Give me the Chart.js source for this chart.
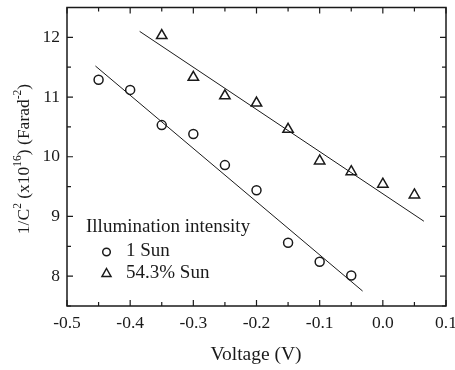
<!DOCTYPE html>
<html>
<head>
<meta charset="utf-8">
<script src="https://cdn.jsdelivr.net/npm/chart.js@4/dist/chart.umd.min.js"></script>
<style>
    html, body { margin: 0; padding: 0; background: #fff; }
    #wrap { width: 455px; height: 370px; position: relative; }
</style>
</head>
<body>
<div id="wrap"><canvas id="mainChart"></canvas></div>
<script>
// tick labels
const xTicks = [-0.5, -0.4, -0.3, -0.2, -0.1, 0.0, 0.1];
const yTicks = [8, 9, 10, 11, 12];

// 1 Sun
const voltageOne = [-0.45, -0.40, -0.35, -0.30, -0.25, -0.20, -0.15, -0.10, -0.05];
const invCapOne = [11.29, 11.12, 10.53, 10.38, 9.86, 9.44, 8.56, 8.24, 8.01];

// 54.3% Sun
const voltagePart = [-0.35, -0.30, -0.25, -0.20, -0.15, -0.10, -0.05, 0.00, 0.05];
const invCapPart = [12.03, 11.33, 11.02, 10.90, 10.46, 9.93, 9.75, 9.54, 9.36];

// linear fits (end points)
const fitOneX = [-0.455, -0.032];
const fitOneY = [11.52, 7.75];
const fitPartX = [-0.385, 0.065];
const fitPartY = [12.10, 8.92];

const legendTitle = 'Illumination intensity';
const seriesNames = ['1 Sun', '54.3% Sun'];

const FONT = '"Liberation Serif", "Times New Roman", serif';
const INK = '#1a1a1a';

const toPts = (xs, ys) => xs.map((v, i) => ({ x: v, y: ys[i] }));

// inward ticks, frame, axis titles and legend
const decor = {
    id: 'decor',
    afterDraw(chart) {
        const { ctx, chartArea: a, scales: { x, y } } = chart;
        ctx.save();
        ctx.strokeStyle = INK;
        ctx.lineWidth = 1.2;
        ctx.beginPath();
        for (let i = 0; i <= 12; i++) {
            const px = x.getPixelForValue(-0.5 + i * 0.05);
            const len = i % 2 === 0 ? 6 : 4;
            ctx.moveTo(px, a.bottom); ctx.lineTo(px, a.bottom - len);
            ctx.moveTo(px, a.top); ctx.lineTo(px, a.top + len);
        }
        for (let i = 0; i <= 10; i++) {
            const py = y.getPixelForValue(7.5 + i * 0.5);
            const len = i % 2 === 1 ? 6 : 4;
            ctx.moveTo(a.left, py); ctx.lineTo(a.left + len, py);
            ctx.moveTo(a.right, py); ctx.lineTo(a.right - len, py);
        }
        ctx.stroke();
        ctx.lineWidth = 1.5;
        ctx.strokeRect(a.left, a.top, a.right - a.left, a.bottom - a.top);

        // x title
        ctx.fillStyle = INK;
        ctx.font = '19.5px ' + FONT;
        ctx.textAlign = 'center';
        ctx.textBaseline = 'middle';
        ctx.fillText('Voltage (V)', 256, 355);

        // y title with superscripts
        const parts = [['1/C', 0], ['2', 1], [' (x10', 0], ['16', 1], [') (Farad', 0], ['-2', 1], [')', 0]];
        const fontOf = s => (s ? '11.5px ' : '17.5px ') + FONT;
        let total = 0;
        parts.forEach(p => { ctx.font = fontOf(p[1]); total += ctx.measureText(p[0]).width; });
        ctx.translate(22, 159);
        ctx.rotate(-Math.PI / 2);
        ctx.textAlign = 'left';
        ctx.textBaseline = 'alphabetic';
        let cx = -total / 2;
        parts.forEach(p => {
            ctx.font = fontOf(p[1]);
            ctx.fillText(p[0], cx, p[1] ? -1 : 6.5);
            cx += ctx.measureText(p[0]).width;
        });
        ctx.setTransform(1, 0, 0, 1, 0, 0);

        // legend
        ctx.font = '19px ' + FONT;
        ctx.textBaseline = 'middle';
        ctx.textAlign = 'left';
        ctx.fillText(legendTitle, 86, 227);
        ctx.fillText(seriesNames[0], 126, 251);
        ctx.fillText(seriesNames[1], 126, 273);
        ctx.lineWidth = 1.5;
        ctx.beginPath();
        ctx.arc(106.5, 252, 3.8, 0, Math.PI * 2);
        ctx.stroke();
        ctx.beginPath();
        ctx.moveTo(106.5, 268.5); ctx.lineTo(111, 276.5); ctx.lineTo(102, 276.5); ctx.closePath();
        ctx.stroke();
        ctx.restore();
    }
};

const noPad = s => { s.paddingTop = 0; s.paddingBottom = 0; s.paddingLeft = 0; s.paddingRight = 0; };

const ctx = document.getElementById('mainChart').getContext('2d');
new Chart(ctx, {
    type: 'scatter',
    data: {
        datasets: [
            {
                label: seriesNames[0],
                data: toPts(voltageOne, invCapOne),
                pointStyle: 'circle',
                pointRadius: 4.5,
                borderColor: INK,
                borderWidth: 1.5,
                backgroundColor: 'rgba(0,0,0,0)'
            },
            {
                label: seriesNames[1],
                data: toPts(voltagePart, invCapPart),
                pointStyle: 'triangle',
                pointRadius: 6,
                borderColor: INK,
                borderWidth: 1.5,
                backgroundColor: 'rgba(0,0,0,0)'
            },
            {
                label: 'fit 1',
                type: 'line',
                data: toPts(fitOneX, fitOneY),
                borderColor: INK,
                borderWidth: 1,
                pointRadius: 0,
                fill: false
            },
            {
                label: 'fit 2',
                type: 'line',
                data: toPts(fitPartX, fitPartY),
                borderColor: INK,
                borderWidth: 1,
                pointRadius: 0,
                fill: false
            }
        ]
    },
    options: {
        responsive: true,
        maintainAspectRatio: false,
        animation: false,
        layout: { padding: { left: 0, right: 9, top: 5, bottom: 0 } },
        plugins: { legend: { display: false }, tooltip: { enabled: false } },
        scales: {
            x: {
                type: 'linear',
                min: -0.5,
                max: 0.1,
                afterFit: s => { s.height = 64; noPad(s); },
                afterBuildTicks: s => { s.ticks = xTicks.map(v => ({ value: v })); },
                grid: { display: false, drawTicks: false },
                border: { display: false },
                ticks: {
                    padding: 7,
                    color: INK,
                    font: { family: FONT, size: 17.5 },
                    callback: v => v.toFixed(1)
                }
            },
            y: {
                type: 'linear',
                min: 7.5,
                max: 12.5,
                afterFit: s => { s.width = 67; noPad(s); },
                afterBuildTicks: s => { s.ticks = yTicks.map(v => ({ value: v })); },
                grid: { display: false, drawTicks: false },
                border: { display: false },
                ticks: {
                    padding: 7,
                    color: INK,
                    font: { family: FONT, size: 17.5 },
                    callback: v => String(v)
                }
            }
        }
    },
    plugins: [decor]
});
</script>
</body>
</html>
